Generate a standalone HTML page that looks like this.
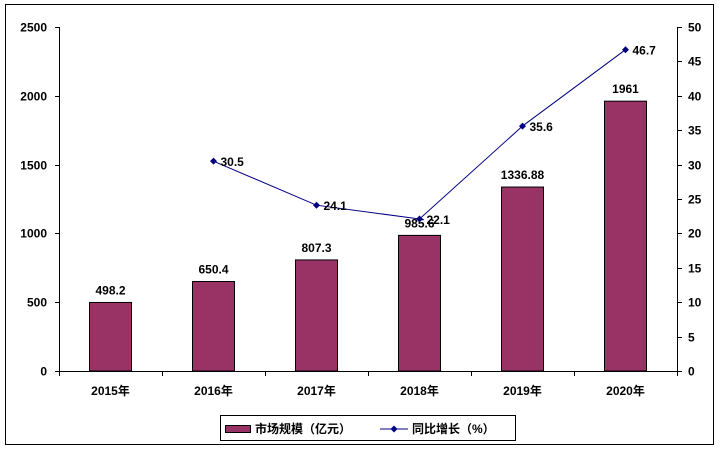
<!DOCTYPE html>
<html><head><meta charset="utf-8"><style>
body{margin:0;background:#fff;}
svg text{font-family:"Liberation Sans","Noto Sans CJK SC",sans-serif;font-weight:bold;font-size:12px;fill:#000;}
</style></head><body>
<svg id="c" width="724" height="456" xmlns="http://www.w3.org/2000/svg">
<rect x="5.5" y="4.5" width="708" height="440" fill="#fff" stroke="#000"/>
<g id="g"></g>
<g>
<rect x="220.5" y="415.5" width="295" height="25" fill="#fff" stroke="#000"/>
<rect x="225.5" y="425.5" width="25" height="7" fill="#993366" stroke="#000"/>
<text x="255" y="433">市场规模（亿元）</text>
<line x1="380" y1="429" x2="408" y2="429" stroke="#000080"/>
<path d="M394 425.5 L397.5 429 L394 432.5 L390.5 429Z" fill="#000080"/>
<text x="412" y="433">同比增长（%）</text>
</g>
</svg>
<script>
const categories=["2015年","2016年","2017年","2018年","2019年","2020年"];
const marketSize=[498.2,650.4,807.3,985.6,1336.88,1961];
const marketLabels=["498.2","650.4","807.3","985.6","1336.88","1961"];
const growth=[null,30.5,24.1,22.1,35.6,46.7];
const leftTicks=[0,500,1000,1500,2000,2500];
const rightTicks=[0,5,10,15,20,25,30,35,40,45,50];
const X0=59,X1=677,Y0=371,Y1=27;
const bw=(X1-X0)/categories.length;
const xc=i=>X0+bw*(i+0.5);
const yL=v=>Y0-(v/2500)*(Y0-Y1);
const yR=v=>Y0-(v/50)*(Y0-Y1);
const g=document.getElementById('g');
const NS="http://www.w3.org/2000/svg";
function mk(t,a){const e=document.createElementNS(NS,t);for(const k in a)e.setAttribute(k,a[k]);g.appendChild(e);return e;}
// axes
let e=mk('line',{x1:X0+.5,y1:Y1,x2:X0+.5,y2:Y0,stroke:'#000'});


e=mk('line',{x1:X1+.5,y1:Y1,x2:X1+.5,y2:Y0,stroke:'#000'});


leftTicks.forEach(v=>{const y=Math.round(yL(v))+.5;mk('line',{x1:X0-4,y1:y,x2:X0+.5,y2:y,stroke:'#000'});
const t=mk('text',{x:47,y:y+4,'text-anchor':'end'});t.textContent=v;

});
rightTicks.forEach(v=>{const y=Math.round(yR(v))+.5;mk('line',{x1:X1,y1:y,x2:X1+5,y2:y,stroke:'#000'});
const t=mk('text',{x:688,y:y+4});t.textContent=v;

});
// bars
categories.forEach((c,i)=>{
const h=Y0-yL(marketSize[i]);
const r=mk('rect',{x:xc(i)-21,y:yL(marketSize[i]),width:42,height:h,fill:'#993366',stroke:'#000'});


const t=mk('text',{x:xc(i),y:yL(marketSize[i])-8,'text-anchor':'middle'});t.textContent=marketLabels[i];


const cl=mk('text',{x:xc(i),y:395,'text-anchor':'middle'});cl.textContent=c;


});
const xa=mk('line',{x1:X0,y1:Y0+.5,x2:X1,y2:Y0+.5,stroke:'#000'});


for(let i=0;i<=categories.length;i++){const x=Math.round(X0+bw*i)+.5;mk('line',{x1:x,y1:Y0,x2:x,y2:Y0+5,stroke:'#000'});}
// line
let pts=[];growth.forEach((v,i)=>{if(v!=null)pts.push([xc(i),yR(v)]);});
const pl=mk('polyline',{points:pts.map(p=>p.join(',')).join(' '),fill:'none',stroke:'#000080','stroke-width':1});


growth.forEach((v,i)=>{if(v==null)return;const x=xc(i),y=yR(v);
const m=mk('path',{d:`M${x} ${y-3.5}L${x+3.5} ${y}L${x} ${y+3.5}L${x-3.5} ${y}Z`,fill:'#000080'});


const t=mk('text',{x:x+7,y:y+5});t.textContent=v;

});
</script>
</body></html>
